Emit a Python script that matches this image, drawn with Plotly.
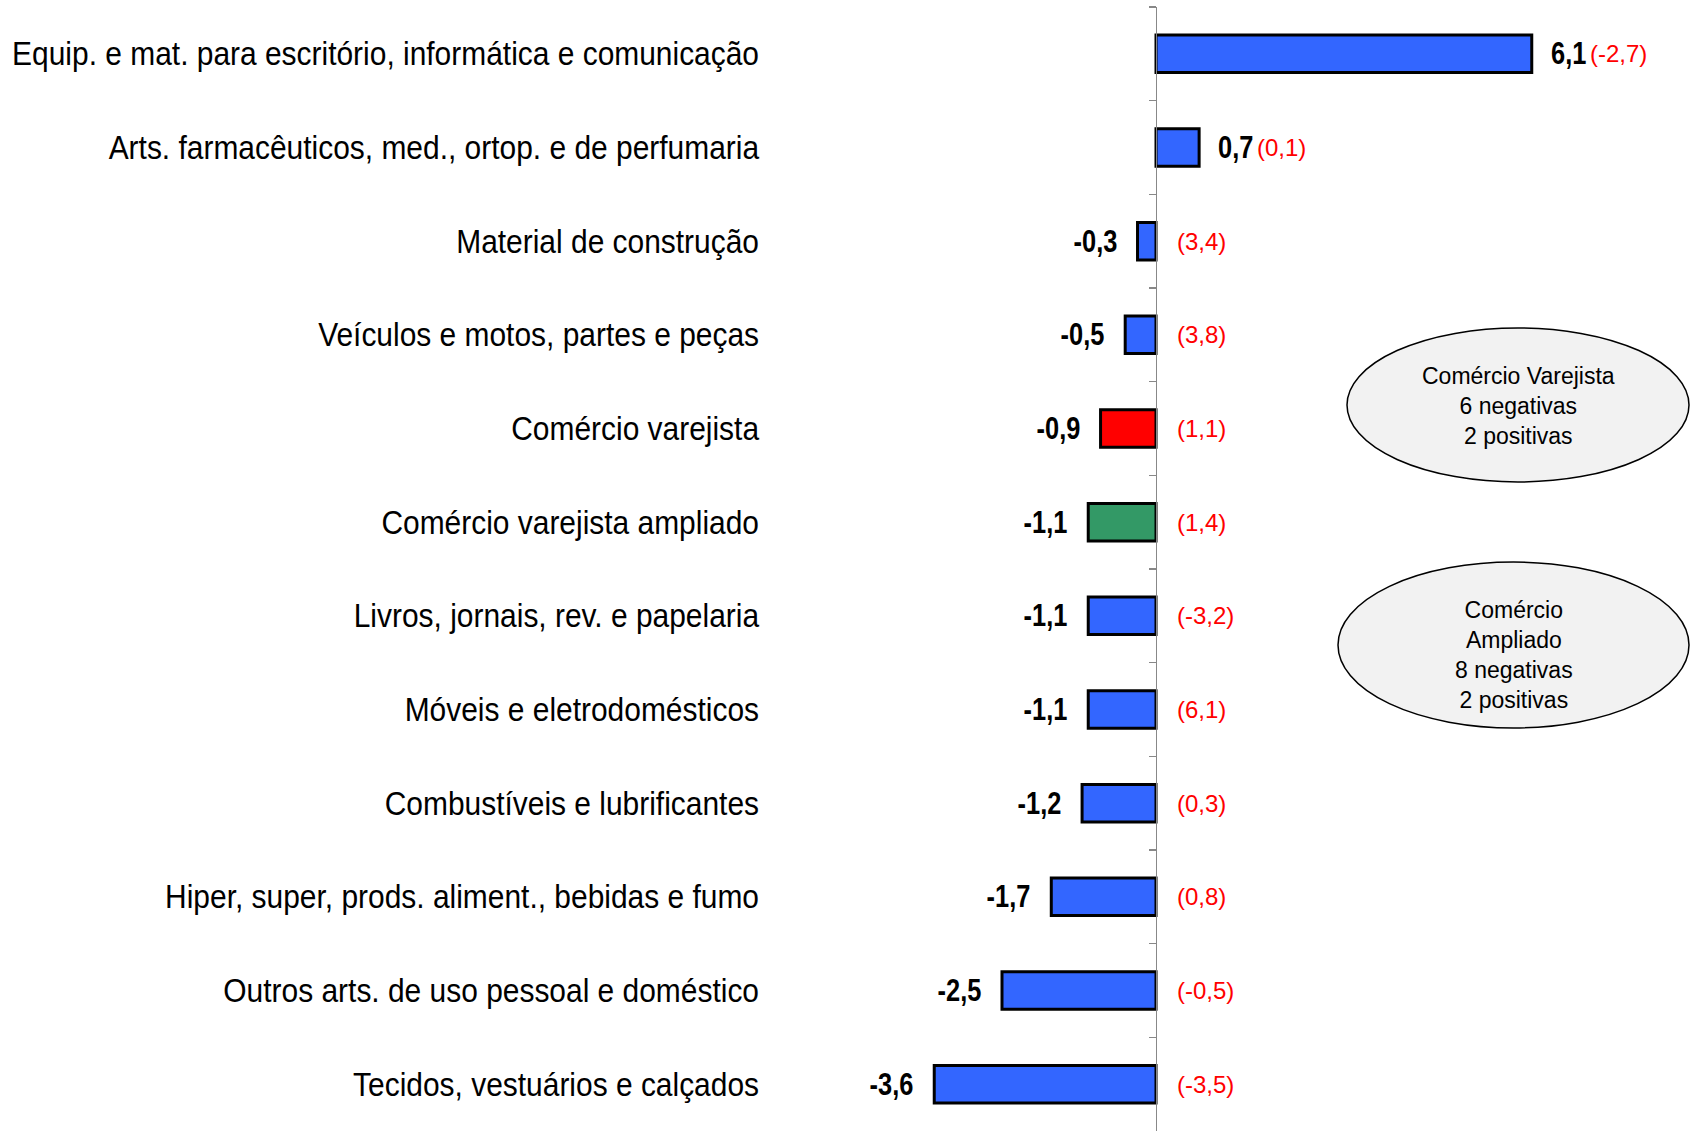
import plotly.graph_objects as go

categories = [
    "Equip. e mat. para escritório, informática e comunicação",
    "Arts. farmacêuticos, med., ortop. e de perfumaria",
    "Material de construção",
    "Veículos e motos, partes e peças",
    "Comércio varejista",
    "Comércio varejista ampliado",
    "Livros, jornais, rev. e papelaria",
    "Móveis e eletrodomésticos",
    "Combustíveis e lubrificantes",
    "Hiper, super, prods. aliment., bebidas e fumo",
    "Outros arts. de uso pessoal e doméstico",
    "Tecidos, vestuários e calçados",
]
values = [6.1, 0.7, -0.3, -0.5, -0.9, -1.1, -1.1, -1.1, -1.2, -1.7, -2.5, -3.6]
previous = [-2.7, 0.1, 3.4, 3.8, 1.1, 1.4, -3.2, 6.1, 0.3, 0.8, -0.5, -3.5]
bar_colors = ["#3366FF", "#3366FF", "#3366FF", "#3366FF", "#FF0000", "#339966",
              "#3366FF", "#3366FF", "#3366FF", "#3366FF", "#3366FF", "#3366FF"]
box_texts = ["Comércio Varejista<br>6 negativas<br>2 positivas",
             "Comércio<br>Ampliado<br>8 negativas<br>2 positivas"]

# figure geometry (page body margin is removed below)
W, H = 1691, 1131
L, R, T, B = 770, 1691, 7, 0
ZERO_PX = 1156
PX_PER_UNIT = 61.6
x_min = -(ZERO_PX - L) / PX_PER_UNIT
x_max = (R - ZERO_PX) / PX_PER_UNIT
LABEL_TARGET_WIDTH = 747     # width of the longest category label
LABEL_SQUEEZE = 0.82         # horizontal condensing of bold value labels

REG = "Liberation Sans, Arial, sans-serif"


def fmt(v):
    return f"{v:.1f}".replace(".", ",")


fig = go.Figure()
fig.add_trace(go.Bar(
    x=values, y=categories, orientation="h",
    marker=dict(color=bar_colors, line=dict(color="black", width=3)),
    width=0.4, hoverinfo="skip", showlegend=False,
))
fig.add_trace(go.Scatter(
    x=values, y=categories, mode="none", yaxis="y2",
    hoverinfo="skip", showlegend=False,
))

annotations = []
for cat, v, p in zip(categories, values, previous):
    red = f"({fmt(p)})"
    if v >= 0:
        annotations.append(dict(
            name="narrow-left", x=v, y=cat, xref="x", yref="y",
            xanchor="left", yanchor="middle", xshift=17, showarrow=False,
            text=f"<b>{fmt(v)}</b>",
            font=dict(family=REG, size=31, color="black"),
        ))
        annotations.append(dict(
            x=v, y=cat, xref="x", yref="y", xanchor="left", yanchor="middle",
            xshift=56, showarrow=False, text=red,
            font=dict(family=REG, size=24, color="#FF0000"),
        ))
    else:
        annotations.append(dict(
            name="narrow-right", x=v, y=cat, xref="x", yref="y",
            xanchor="right", yanchor="middle", xshift=-19, showarrow=False,
            text=f"<b>{fmt(v)}</b>",
            font=dict(family=REG, size=31, color="black"),
        ))
        annotations.append(dict(
            x=0, y=cat, xref="x", yref="y", xanchor="left", yanchor="middle",
            xshift=19, showarrow=False, text=red,
            font=dict(family=REG, size=24, color="#FF0000"),
        ))


def px_to_paper_x(px):
    return (px - L) / (R - L)


def px_to_paper_y(py):
    return 1 - (py - T) / (H - T - B)


ellipses = [(1347, 328, 1689, 482), (1338, 562, 1689, 728)]
text_centers = [(1518, 406), (1514, 655)]
shapes = []
for (x0, y0, x1, y1), (tx, ty), txt in zip(ellipses, text_centers, box_texts):
    shapes.append(dict(
        type="circle", xref="paper", yref="paper",
        x0=px_to_paper_x(x0), x1=px_to_paper_x(x1),
        y0=px_to_paper_y(y1), y1=px_to_paper_y(y0),
        fillcolor="#F2F2F2", line=dict(color="black", width=1.5), layer="below",
    ))
    annotations.append(dict(
        x=px_to_paper_x(tx), y=px_to_paper_y(ty),
        xref="paper", yref="paper", xanchor="center", yanchor="middle",
        showarrow=False, text=txt, align="center",
        font=dict(family=REG, size=23, color="black"),
    ))

fig.update_layout(
    width=W, height=H,
    margin=dict(l=L, r=W - R, t=T, b=B, pad=0),
    paper_bgcolor="white", plot_bgcolor="white",
    xaxis=dict(range=[x_min, x_max], visible=False, fixedrange=True),
    yaxis=dict(
        type="category", categoryorder="array", categoryarray=categories,
        range=[len(categories) - 0.5, -0.5], showline=False, ticks="",
        showgrid=False, zeroline=False, automargin=False,
        tickfont=dict(family=REG, size=33, color="black"),
        ticklabelstandoff=10,
    ),
    yaxis2=dict(
        type="category", categoryorder="array", categoryarray=categories,
        range=[len(categories) - 0.5, -0.5], overlaying="y", anchor="free",
        position=px_to_paper_x(ZERO_PX), side="left",
        showline=True, linecolor="#888888", linewidth=1.2,
        ticks="outside", tickson="boundaries", ticklen=7, tickcolor="#888888",
        tickwidth=1.2, showticklabels=False, showgrid=False, zeroline=False,
    ),
    shapes=shapes,
    annotations=annotations,
)

# Remove the page margin and condense Arial-like text to mimic Arial Narrow
post_js = """
document.body.style.margin = '0';
document.body.style.overflow = 'hidden';
var gd = document.getElementById('{plot_id}');
function squeeze(t, s, where) {
  var b = t.getBBox();
  var ax = where === 'left' ? b.x : b.x + b.width;
  var tr = t.getAttribute('transform') || '';
  t.setAttribute('transform', tr + ' translate(' + ax + ',0) scale(' + s + ',1) translate(' + (-ax) + ',0)');
}
var ticks = gd.querySelectorAll('g.ytick text');
var maxw = 0;
ticks.forEach(function(t){ maxw = Math.max(maxw, t.getBBox().width); });
var s = %f / maxw;
ticks.forEach(function(t){ squeeze(t, s, 'right'); });
gd.querySelectorAll('g.annotation').forEach(function(g){
  var i = +g.getAttribute('data-index');
  var a = gd.layout.annotations[i];
  if (!a || !a.name) return;
  var t = g.querySelector('text.annotation-text');
  if (!t) return;
  if (a.name === 'narrow-left') squeeze(t, %f, 'left');
  if (a.name === 'narrow-right') squeeze(t, %f, 'right');
});
""" % (LABEL_TARGET_WIDTH, LABEL_SQUEEZE, LABEL_SQUEEZE)

fig.write_html("out.html", post_script=post_js,
               config={"displayModeBar": False, "staticPlot": True})
